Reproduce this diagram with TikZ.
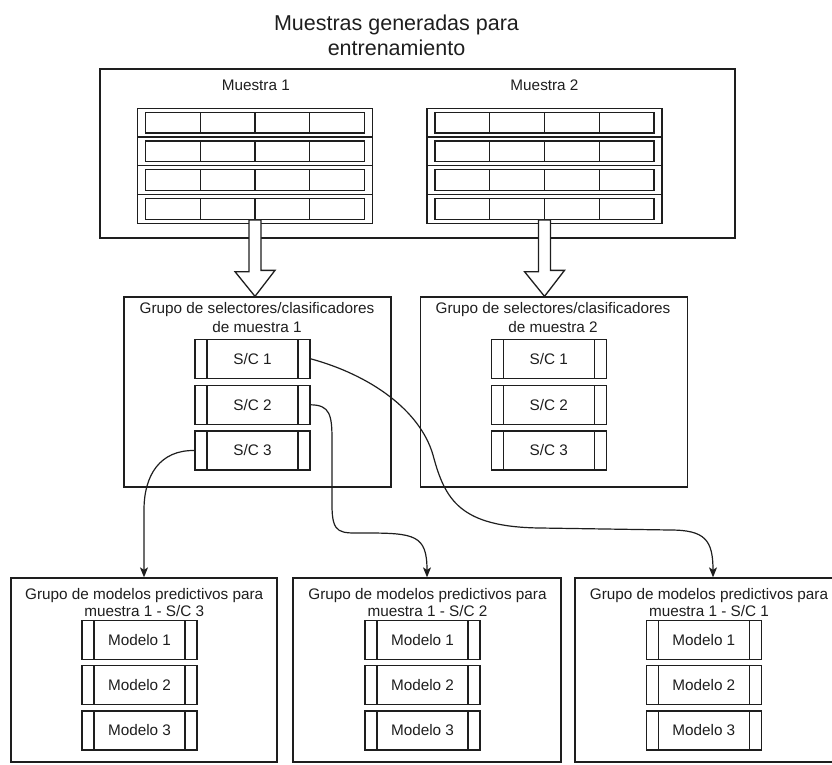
\documentclass[tikz,border=0pt]{standalone}
\usepackage{fontspec}
\setmainfont{Liberation Sans}
\usetikzlibrary{arrows.meta}
\definecolor{ink}{HTML}{1E1E1E}
\begin{document}
\begin{tikzpicture}[x=1pt,y=-1pt,line width=1.3pt,color=ink,
  box/.style={draw, rectangle, inner sep=0pt},
  lbl/.style={font=\fontsize{15.3}{18.4}\selectfont, align=center, inner sep=0pt},
  lblb/.style={font=\fontsize{15.3}{17}\selectfont, align=center, inner sep=0pt},
  ttl/.style={font=\fontsize{21.5}{25}\selectfont, align=center, inner sep=0pt},
  proc/.style={draw, fill=white, minimum width=115pt, minimum height=39pt, inner sep=0pt,
    font=\fontsize{15.3}{18}\selectfont,
    path picture={\draw ([xshift=12pt]path picture bounding box.north west) -- ([xshift=12pt]path picture bounding box.south west)
      ([xshift=-12pt]path picture bounding box.north east) -- ([xshift=-12pt]path picture bounding box.south east);}},
  link/.style={-{Stealth[length=10pt,width=8pt,inset=2.5pt]}, line width=1.2pt},
  blk/.style={draw, fill=white, line width=1.3pt, line join=miter}]
\useasboundingbox (0,0) rectangle (832,765);
\clip (0,0) rectangle (832,765);

% title
\node[ttl] (title) at (396.5,35.8) {Muestras generadas para\\entrenamiento};

% outer box of samples
\node[box, minimum width=635pt, minimum height=169pt] (outer) at (417.5,153.5) {};
\node[lbl] (m1) at (255.8,85) {Muestra 1};
\node[lbl] (m2) at (544.5,85) {Muestra 2};

% tables
\foreach \cx/\nm in {255/t1, 544.5/t2} {
  \node[box, minimum width=235pt, minimum height=115pt] (\nm) at (\cx,165.8) {};
  \foreach \i in {1,2,3} \draw (\cx-117.5, 108.3+\i*28.75) -- (\cx+117.5, 108.3+\i*28.75);
  \foreach \i in {0,...,3} {
    \draw (\cx-109.5, 108.3+\i*28.75+4) rectangle (\cx+109.5, 108.3+\i*28.75+24.75);
    \foreach \j in {1,2,3} \draw (\cx-109.5+\j*54.75, 108.3+\i*28.75+4) -- ++(0,20.75);
  }
}

% group boxes
\node[box, minimum width=267pt, minimum height=190pt] (g1) at (257.5,392) {};
\node[box, minimum width=267pt, minimum height=190pt] (g2) at (553.7,392) {};
\node[lbl] (g1l) at (257,317.5) {Grupo de selectores/clasificadores\\de muestra 1};
\node[lbl] (g2l) at (553,317.5) {Grupo de selectores/clasificadores\\de muestra 2};

\foreach \g/\cx in {g1/252.5, g2/548.8} {
  \node[proc] (\g sc1) at (\cx,358.8) {S/C 1};
  \node[proc] (\g sc2) at (\cx,404.8) {S/C 2};
  \node[proc] (\g sc3) at (\cx,450.5) {S/C 3};
}

% block arrows
\draw[blk] ([shift={(-6,-4)}]t1.south) -- ++(0,51.7) -- ++(-14,0) -- (g1.north -| t1.south)
  -- ++(20,-26) -- ++(-14,0) -- ([shift={(6,-4)}]t1.south) -- cycle;
\draw[blk] ([shift={(-6,-4)}]t2.south) -- ++(0,51.7) -- ++(-14,0) -- (g2.north -| t2.south)
  -- ++(20,-26) -- ++(-14,0) -- ([shift={(6,-4)}]t2.south) -- cycle;

% bottom boxes
\node[box, minimum width=266pt, minimum height=184pt] (b1) at (144,670) {};
\node[box, minimum width=268pt, minimum height=184pt] (b2) at (427,670) {};
\node[box, minimum width=268pt, minimum height=184pt] (b3) at (709,670) {};
\node[lblb] (b1l) at (144.2,603) {Grupo de modelos predictivos para\\muestra 1 - S/C 3};
\node[lblb] (b2l) at (427.5,603) {Grupo de modelos predictivos para\\muestra 1 - S/C 2};
\node[lblb] (b3l) at (709,603) {Grupo de modelos predictivos para\\muestra 1 - S/C 1};

\foreach \b/\cx in {b1/139.5, b2/422.5, b3/703.8} {
  \node[proc] (\b m1) at (\cx,639.7) {Modelo 1};
  \node[proc] (\b m2) at (\cx,685) {Modelo 2};
  \node[proc] (\b m3) at (\cx,730.5) {Modelo 3};
}

% connectors
\draw[link] (g1sc3.west) .. controls (160,450) and (144,475) .. (144,510) -- (b1.north);
\draw[link] (g1sc2.east) .. controls (330,405) and (332,415) .. (332,440) -- (332,505)
  .. controls (332,535) and (340,533) .. (365,533) .. controls (415,533) and (427,535) .. (b2.north);
\draw[link] (g1sc1.east) .. controls (370,375) and (420,410) .. (433,455)
  .. controls (445,500) and (460,527) .. (540,528) -- (670,530)
  .. controls (705,530) and (713,540) .. ([xshift=4pt]b3.north);
\end{tikzpicture}
\end{document}
